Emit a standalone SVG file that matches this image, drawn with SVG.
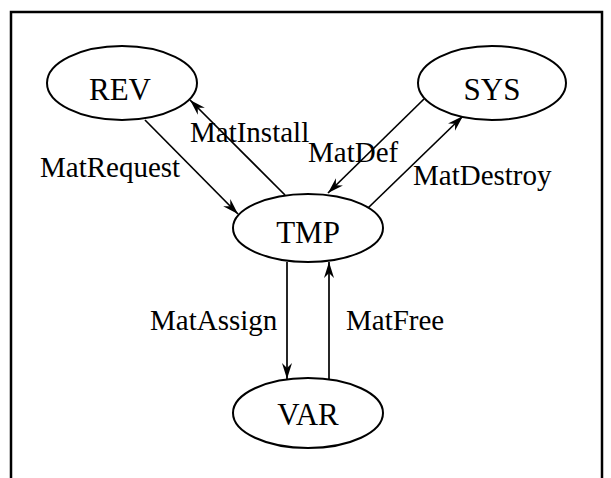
<svg xmlns="http://www.w3.org/2000/svg" width="611" height="478" viewBox="0 0 611 478">
  <style>
    .frame { fill: none; stroke: #000; stroke-width: 2.5; }
    .node ellipse { fill: #fff; stroke: #000; stroke-width: 2; }
    .node text { font-family: "Liberation Serif", "Times New Roman", serif; font-size: 31px; text-anchor: middle; fill: #000; }
    .edge { stroke: #000; stroke-width: 1.7; fill: none; marker-end: url(#arrow); }
    .label { font-family: "Liberation Serif", "Times New Roman", serif; font-size: 29px; fill: #000; }
  </style>
  <defs>
    <marker id="arrow" viewBox="-18 -7 20 14" refX="0" refY="0" markerWidth="20" markerHeight="14" markerUnits="userSpaceOnUse" orient="auto">
      <path d="M0,0 L-16,-5 L-11,0 L-16,5 Z" fill="#000"/>
    </marker>
  </defs>
  <rect width="611" height="478" fill="#fff"/>
  <!-- outer frame, open at the bottom edge -->
  <path class="frame" d="M11,480 V12 H602 V480"/>

  <g id="connectors">
    <line class="edge" x1="145" y1="120" x2="238" y2="214"/>
    <line class="edge" x1="285" y1="195" x2="190" y2="100"/>
    <line class="edge" x1="424" y1="99" x2="328" y2="193"/>
    <line class="edge" x1="368" y1="208" x2="463" y2="116"/>
    <line class="edge" x1="287" y1="262" x2="287" y2="379"/>
    <line class="edge" x1="329" y1="379" x2="329" y2="262"/>
    <text class="label" x="40" y="177">MatRequest</text>
    <text class="label" x="190" y="142">MatInstall</text>
    <text class="label" x="308" y="162">MatDef</text>
    <text class="label" x="413" y="185">MatDestroy</text>
    <text class="label" x="150" y="330">MatAssign</text>
    <text class="label" x="346" y="330">MatFree</text>
  </g>

  <g id="REV" class="node">
    <ellipse cx="122" cy="83" rx="75" ry="37"/>
    <text x="120" y="100">REV</text>
  </g>
  <g id="SYS" class="node">
    <ellipse cx="492" cy="83" rx="74" ry="37"/>
    <text x="492" y="100">SYS</text>
  </g>
  <g id="TMP" class="node">
    <ellipse cx="308" cy="228" rx="75" ry="34"/>
    <text x="308" y="243">TMP</text>
  </g>
  <g id="VAR" class="node">
    <ellipse cx="308" cy="413" rx="75" ry="35"/>
    <text x="308" y="425">VAR</text>
  </g>
</svg>
